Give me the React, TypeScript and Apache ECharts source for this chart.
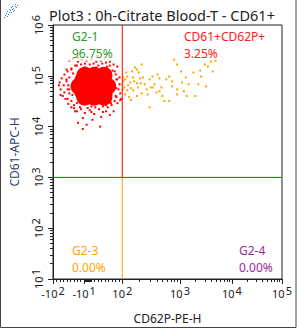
import React, { useEffect, useRef } from 'react';
import * as echarts from 'echarts';

const TITLE = 'Plot3 : 0h-Citrate Blood-T - CD61+';
const X_NAME = 'CD62P-PE-H';
const Y_NAME = 'CD61-APC-H';

const X_MIN = -100;
const X_MAX = 100000;
const Y_MIN = 10;
const Y_MAX = 1000000;

const xMajorTicks = [-100, -10, 100, 1000, 10000, 100000];
const xLabelBase = ['-10', '-10', '10', '10', '10', '10'];
const xLabelExp = ['2', '1', '2', '3', '4', '5'];
const yMajorTicks = [10, 100, 1000, 10000, 100000, 1000000];
const yLabelExp = ['1', '2', '3', '4', '5', '6'];

const gateX = 100;
const gateY = 1000;

const quadrantNames = ['G2-1', 'CD61+CD62P+', 'G2-3', 'G2-4'];
const quadrantPercents = ['96.75%', '3.25%', '0.00%', '0.00%'];
const quadrantColors = ['#2f9a2f', '#ff1a1a', '#ffa500', '#9a2a9a'];

// dense core of the CD61+ population (raw values)
const redCore: [number, number][] = [
  [-8, 102000], [19, 102000], [47, 102000],
  [-25, 62000], [3, 62000], [31, 62000], [58, 62000],
  [-8, 38000], [19, 38000], [47, 38000],
  [19, 62000], [-14, 80000], [44, 80000], [-14, 48000], [44, 48000],
];

// scattered events around the core
const redDots: [number, number][] = [
  [-53, 199000], [-42, 218000], [-28, 190000], [-17, 208000], [-3, 199000], [11, 208000],
  [25, 190000], [39, 199000], [53, 182000], [64, 190000], [75, 167000], [86, 152000],
  [-36, 159000], [-19, 167000], [6, 167000], [31, 159000], [56, 152000], [-47, 139000], [-58, 122000],
  [-67, 106000], [-75, 89000], [-81, 74000], [-69, 65000], [-78, 54000], [-67, 47000],
  [-72, 40000], [-58, 35000], [-56, 28000], [-47, 24000], [-61, 85000], [-53, 54000],
  [72, 127000], [81, 106000], [86, 85000], [92, 68000], [89, 54000], [94, 45000],
  [83, 38000], [78, 32000], [69, 26500], [86, 29000], [97, 35000],
  [-39, 23000], [-31, 20000], [-19, 22000], [-8, 18500], [6, 21000], [19, 17700],
  [33, 22000], [44, 19400], [58, 24000], [-14, 14800], [-28, 11900], [14, 13600],
  [39, 15500], [64, 17000], [-3, 10900], [75, 20000],
  [-42, 111000], [-44, 42000], [72, 78000], [69, 43000], [-31, 29000], [53, 26500],
  [11, 25000], [25, 146000], [-8, 146000],
  [-47, 133000], [-53, 93000], [-56, 65000], [-53, 45000], [-47, 32000], [-39, 26500],
  [-22, 24000], [0, 23200], [22, 24000], [44, 25000], [67, 29000], [81, 40000],
  [83, 57000], [83, 85000], [78, 122000], [64, 159000], [42, 174000], [17, 174000],
  [-8, 174000], [-31, 159000], [-61, 78000], [-58, 54000], [-64, 35000], [-36, 20000],
  [11, 19400], [53, 20000], [92, 93000], [94, 33000], [-61, 133000], [-28, 228000],
  [50, 228000], [28, 250000], [-78, 42000], [-83, 65000], [-14, 9000], [36, 10000],
];

// CD61+CD62P+ events
const orangeDots: [number, number][] = [
  [166, 146000], [180, 133000], [148, 122000], [218, 167000], [194, 117000], [122, 97000],
  [154, 93000], [202, 89000], [227, 93000], [104, 78000], [137, 74000], [180, 71000],
  [245, 68000], [298, 85000], [335, 97000], [407, 106000], [440, 89000], [362, 68000],
  [310, 59000], [476, 59000], [580, 85000], [650, 97000], [730, 78000], [790, 208000],
  [890, 167000], [1044, 122000], [1089, 74000], [1291, 93000], [1468, 68000], [1186, 50000],
  [890, 43000], [650, 32000], [495, 40000], [392, 47000], [276, 43000], [218, 45000],
  [180, 40000], [154, 52000], [122, 52000], [112, 43000], [131, 38000], [298, 24000],
  [535, 32000], [1816, 116000], [2447, 127000], [2554, 97000], [2248, 68000], [3030, 167000],
  [3443, 152000], [4260, 122000], [3915, 190000], [4840, 199000], [3160, 62000], [1977, 40000],
  [1348, 40000], [890, 54000], [730, 62000], [440, 50000], [335, 59000], [101, 68000],
  [101, 54000], [104, 93000], [108, 59000], [112, 85000], [126, 65000], [142, 57000],
  [160, 78000], [117, 116000], [187, 59000], [210, 71000], [265, 54000], [142, 33500],
];

const FONT = '"Noto Sans", "Open Sans", sans-serif';

function toX(v: number): number {
  if (v <= 100) return 36 + v * 0.36;
  const l = Math.log10(v);
  if (l <= 3) return 72 + 60 * (l - 2);
  if (l <= 4) return 132 + 54 * (l - 3);
  return 186 + 52 * (l - 4);
}
const toY = (v: number) => Math.log10(v);

function minorX(): number[] {
  const out: number[] = [];
  for (let k = -90; k <= -20; k += 10) out.push(k);
  for (let k = -9; k <= 9; k++) if (k !== 0) out.push(k);
  for (let k = 20; k <= 90; k += 10) out.push(k);
  for (let d = 100; d < 100000; d *= 10) for (let k = 2; k <= 9; k++) out.push(k * d);
  return out.map(toX);
}
function minorY(): number[] {
  const out: number[] = [];
  for (let d = 10; d < 1000000; d *= 10) for (let k = 2; k <= 9; k++) out.push(Math.log10(k * d));
  return out;
}

const iconDots: [number, number][] = [
  [4, 17], [5, 15], [7, 16], [6, 13], [8, 14], [9, 12], [10, 10], [11, 12], [12, 9], [13, 8],
  [14, 10], [15, 6], [16, 7], [17, 5], [15, 4], [12, 6], [9, 9], [7, 11], [11, 7], [13, 11],
];

export default function App() {
  const ref = useRef<HTMLDivElement>(null);
  useEffect(() => {
    if (!ref.current) return;
    const chart = echarts.init(ref.current, undefined, { renderer: 'svg' });
    const xm = xMajorTicks.map(toX);
    const tickColor = '#222';
    const qText = (i: number, left: number, top: number) => [
      { type: 'text', z: 101, left, top, style: { text: quadrantNames[i], fill: quadrantColors[i], font: `12px ${FONT}`, lineHeight: 14 } },
      { type: 'text', z: 101, left, top: top + 17, style: { text: quadrantPercents[i], fill: quadrantColors[i], font: `12px ${FONT}`, lineHeight: 14 } },
    ];
    const option: any = {
      animation: false,
      backgroundColor: '#fff',
      title: {
        text: TITLE, left: 44, top: 2,
        textStyle: { fontSize: 14.5, fontWeight: 'normal', color: '#222', fontFamily: FONT },
      },
      grid: { left: 44, top: 25, width: 238, height: 257, show: true, borderColor: '#222', borderWidth: 1, backgroundColor: 'transparent' },
      xAxis: [
        {
          type: 'value', position: 'bottom', min: toX(X_MIN), max: toX(X_MAX),
          axisLine: { show: true, lineStyle: { color: tickColor } },
          axisTick: { show: true, customValues: xm, length: 5, lineStyle: { color: tickColor } },
          axisLabel: {
            customValues: xm, margin: 6, fontSize: 11, color: '#222', fontFamily: FONT,
            formatter: (val: number) => {
              const i = xm.findIndex((t) => Math.abs(t - val) < 1e-3);
              return i >= 0 ? `${xLabelBase[i]}{s|${xLabelExp[i]}}` : '';
            },
            rich: { s: { fontSize: 11, padding: [0, 0, 6, 1], color: '#222', fontFamily: FONT } },
          },
          splitLine: { show: false },
          name: X_NAME, nameLocation: 'middle', nameGap: 33,
          nameTextStyle: { fontSize: 12, color: '#222', fontFamily: FONT },
        },
        {
          type: 'value', position: 'bottom', offset: 0, min: toX(X_MIN), max: toX(X_MAX),
          axisLine: { show: false },
          axisTick: { show: true, customValues: minorX(), length: 3, lineStyle: { color: tickColor } },
          axisLabel: { show: false },
          splitLine: { show: false },
        },
      ],
      yAxis: [
        {
          type: 'value', position: 'left', min: toY(Y_MIN), max: toY(Y_MAX),
          axisLine: { show: true, lineStyle: { color: tickColor } },
          axisTick: { show: true, customValues: yMajorTicks.map(toY), length: 5, lineStyle: { color: tickColor } },
          axisLabel: {
            customValues: yMajorTicks.map(toY), rotate: 90, margin: 6, fontSize: 11, color: '#222', fontFamily: FONT,
            formatter: (val: number) => {
              const i = yMajorTicks.findIndex((t) => Math.abs(toY(t) - val) < 1e-3);
              return i >= 0 ? `10{s|${yLabelExp[i]}}` : '';
            },
            rich: { s: { fontSize: 11, padding: [0, 0, 6, 1], color: '#222', fontFamily: FONT } },
          },
          splitLine: { show: false },
          name: Y_NAME, nameLocation: 'middle', nameGap: 33,
          nameTextStyle: { fontSize: 12, color: '#2c3e70', fontFamily: FONT },
        },
        {
          type: 'value', position: 'left', offset: 0, min: toY(Y_MIN), max: toY(Y_MAX),
          axisLine: { show: false },
          axisTick: { show: true, customValues: minorY(), length: 3, lineStyle: { color: tickColor } },
          axisLabel: { show: false },
          splitLine: { show: false },
        },
      ],
      series: [
        {
          type: 'scatter', symbol: 'circle', symbolSize: 17, silent: true,
          itemStyle: { color: '#ff0000', opacity: 1, borderWidth: 0 },
          data: redCore.map(([x, y]) => [toX(x), toY(y)]),
        },
        {
          type: 'scatter', symbol: 'rect', symbolSize: 2, silent: true,
          itemStyle: { color: '#ff0000', opacity: 1 },
          data: redDots.map(([x, y]) => [toX(x), toY(y)]),
        },
        {
          type: 'scatter', symbol: 'rect', symbolSize: 2, silent: true,
          itemStyle: { color: '#ffa500', opacity: 1 },
          data: orangeDots.map(([x, y]) => [toX(x), toY(y)]),
        },
        {
          type: 'line', symbol: 'none', silent: true, z: 5,
          lineStyle: { color: '#ff0000', width: 1 },
          data: [[toX(gateX), toY(gateY)], [toX(gateX), toY(Y_MAX)]],
        },
        {
          type: 'line', symbol: 'none', silent: true, z: 5,
          lineStyle: { color: '#ffa500', width: 1 },
          data: [[toX(gateX), toY(Y_MIN)], [toX(gateX), toY(gateY)]],
        },
        {
          type: 'line', symbol: 'none', silent: true, z: 5,
          lineStyle: { color: '#008000', width: 1 },
          data: [[toX(X_MIN), toY(gateY)], [toX(X_MAX), toY(gateY)]],
        },
      ],
      graphic: [
        { type: 'rect', z: 100, silent: true, shape: { x: 68, y: 26, width: 50, height: 35 }, style: { fill: 'rgba(255,255,255,0.7)' } },
        ...qText(0, 72, 29),
        ...qText(1, 184, 29),
        ...qText(2, 72, 243),
        ...qText(3, 239, 243),
        ...iconDots.map(([x, y]) => ({ type: 'rect', z: 100, silent: true, shape: { x, y, width: 1, height: 1 }, style: { fill: '#3b7be0' } })),
        { type: 'rect', z: 100, silent: true, shape: { x: 0.5, y: -3, width: 295.5, height: 330.5 }, style: { fill: 'none', stroke: '#444', lineWidth: 1 } },
      ],
    };
    chart.setOption(option);
    return () => chart.dispose();
  }, []);
  return <div ref={ref} style={{ position: 'absolute', left: 0, top: 0, width: 297, height: 329 }} />;
}
